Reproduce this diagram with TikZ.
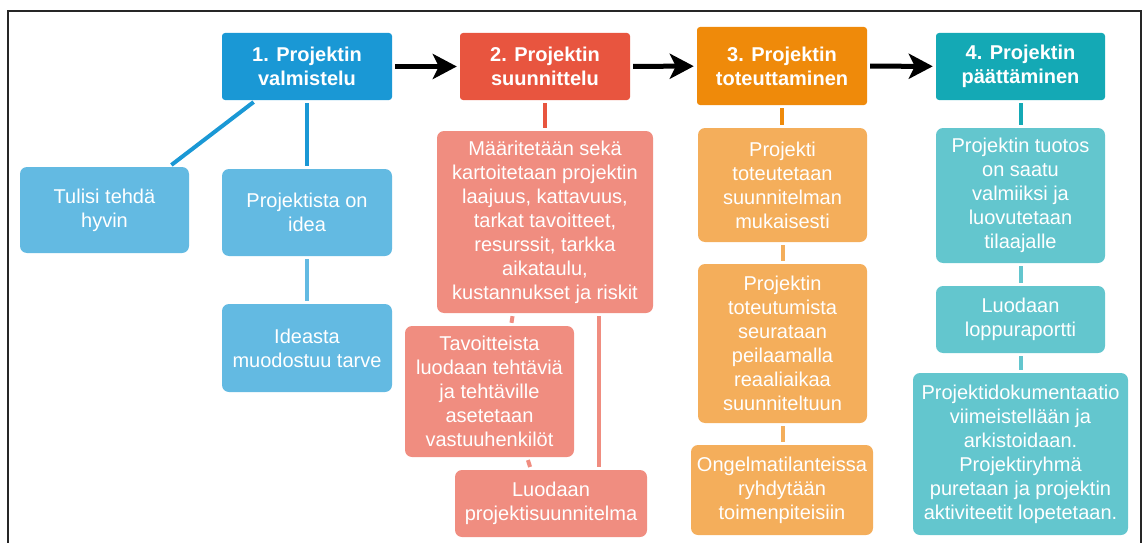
\documentclass[tikz,border=0pt]{standalone}
\usepackage{fontspec}
\setmainfont{Liberation Sans}
\usepackage{xcolor}
\definecolor{blueHead}{HTML}{1A98D5}
\definecolor{blueCard}{HTML}{63BAE2}
\definecolor{redHead}{HTML}{E8553F}
\definecolor{redCard}{HTML}{F08D80}
\definecolor{orangeHead}{HTML}{EF8A0A}
\definecolor{orangeCard}{HTML}{F4AE5B}
\definecolor{tealHead}{HTML}{14A9B5}
\definecolor{tealCard}{HTML}{63C6CE}
\usepackage{tikz}
\usetikzlibrary{
    arrows.meta,
    positioning
}
\tikzstyle{head} = [
    rectangle,
    rounded corners=3pt,
    text=white,
    font=\bfseries\fontsize{20}{24}\selectfont,
    align=center,
    minimum width=170pt,
    minimum height=67pt,
    inner sep=0pt
]
\tikzstyle{card} = [
    rectangle,
    rounded corners=7pt,
    text=white,
    font=\fontsize{20}{24}\selectfont,
    align=center,
    minimum width=169pt,
    inner sep=0pt
]
\tikzstyle{link} = [
    line width=4pt,
    shorten >=3pt,
    shorten <=3pt
]
\tikzstyle{flow} = [
    line width=5pt,
    -{Stealth[length=24pt,width=25pt,inset=6pt]},
    shorten >=3pt,
    shorten <=3pt
]

\begin{document}
\begin{tikzpicture}[x=1pt, y=-1pt]

\useasboundingbox (0,0) rectangle (1146,543);
\draw [line width=2pt, black!85] (8,543) -- (8,11) -- (1141,11) -- (1141,543);

% vaiheet
\node (head1) [head, fill=blueHead] at (307,66.5) {1. Projektin\\valmistelu};
\node (head2) [head, fill=redHead] at (545,66.5) {2. Projektin\\suunnittelu};
\node (head3) [head, fill=orangeHead, minimum height=78pt] at (782,66) {3. Projektin\\toteuttaminen};
\node (head4) [head, fill=tealHead, minimum width=169pt] at (1020.5,66.5) {4. Projektin\\päättäminen};

\draw [flow] (head1) -- (head2);
\draw [flow] (head2) -- (head3);
\draw [flow] (head3) -- (head4);

% valmistelu
\node (hyvin) [card, fill=blueCard, minimum height=86pt] at (104.5,210)
    {Tulisi tehdä\\hyvin};
\node (idea) [card, fill=blueCard, minimum width=170pt, minimum height=87pt] at (307,212.5)
    {Projektista on\\idea};
\node (tarve) [card, fill=blueCard, minimum width=170pt, minimum height=88pt] at (307,348)
    {Ideasta\\muodostuu tarve};

\draw [link, blueHead] ([xshift=-51pt]head1.south) -- ([xshift=64.5pt]hyvin.north);
\draw [link, blueHead] (head1) -- (idea);
\draw [link, blueCard] (idea) -- (tarve);

% suunnittelu
\node (laajuus) [card, fill=redCard, minimum width=216pt, minimum height=182pt] at (545,222)
    {Määritetään sekä\\kartoitetaan projektin\\laajuus, kattavuus,\\tarkat tavoitteet,\\resurssit, tarkka\\aikataulu,\\kustannukset ja riskit};
\node (tehtavat) [card, fill=redCard, minimum height=131pt] at (489.5,391.5)
    {Tavoitteista\\luodaan tehtäviä\\ja tehtäville\\asetetaan\\vastuuhenkilöt};
\node (suunnitelma) [card, fill=redCard, minimum width=192pt, minimum height=67pt] at (551,503.5)
    {Luodaan\\projektisuunnitelma};

\draw [link, redHead] (head2) -- (laajuus);
\draw [link, redCard] ([xshift=-32pt]laajuus.south) -- ([xshift=21.5pt]tehtavat.north);
\draw [link, redCard] ([xshift=37.5pt]tehtavat.south) -- ([xshift=-20pt]suunnitelma.north);
\draw [link, redCard] ([xshift=54pt]laajuus.south) -- ([xshift=48pt]suunnitelma.north);

% toteuttaminen
\node (toteutus) [card, fill=orangeCard, minimum height=114pt] at (782.5,185)
    {Projekti\\toteutetaan\\suunnitelman\\mukaisesti};
\node (seuranta) [card, fill=orangeCard, minimum height=159pt] at (782.5,343.5)
    {Projektin\\toteutumista\\seurataan\\peilaamalla\\reaaliaikaa\\suunniteltuun};
\node (ongelmat) [card, fill=orangeCard, minimum width=182pt, minimum height=90pt] at (782,490)
    {Ongelmatilanteissa\\ryhdytään\\toimenpiteisiin};

\draw [link, orangeHead] (head3) -- (head3 |- toteutus.north);
\draw [link, orangeCard] (toteutus) -- (seuranta);
\draw [link, orangeCard] (seuranta) -- (seuranta |- ongelmat.north);

% päättäminen
\node (tuotos) [card, fill=tealCard, minimum height=135pt] at (1020.5,195.5)
    {Projektin tuotos\\on saatu\\valmiiksi ja\\luovutetaan\\tilaajalle};
\node (raportti) [card, fill=tealCard, minimum height=67pt] at (1020.5,319.5)
    {Luodaan\\loppuraportti};
\node (arkisto) [card, fill=tealCard, minimum width=215pt, minimum height=162pt] at (1020.5,454)
    {Projektidokumentaatio\\viimeistellään ja\\arkistoidaan.\\Projektiryhmä\\puretaan ja projektin\\aktiviteetit lopetetaan.};

\draw [link, tealHead] (head4) -- (tuotos);
\draw [link, tealCard] (tuotos) -- (raportti);
\draw [link, tealCard] (raportti) -- (arkisto);

\end{tikzpicture}
\end{document}
